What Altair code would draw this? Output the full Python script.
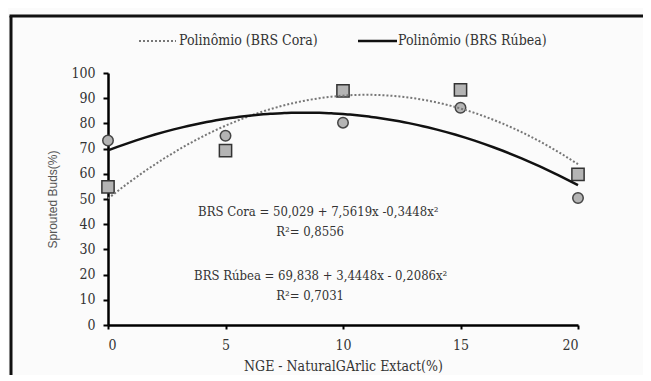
import altair as alt
import pandas as pd

x_levels = [0, 5, 10, 15, 20]
cora_vals = [54.8, 69.2, 92.9, 93.3, 59.8]
rubea_vals = [73.2, 75.1, 80.3, 86.2, 50.4]

eq_texts = ["BRS Cora = 50,029 + 7,5619x -0,3448x²", "R²= 0,8556",
            "BRS Rúbea = 69,838 + 3,4448x - 0,2086x²", "R²= 0,7031"]
eq_x = [8.95, 8.6, 9.05, 8.6]
eq_y = [44.8, 36.9, 19.4, 11.5]

legend_labels = ["Polinômio (BRS Cora)", "Polinômio (BRS Rúbea)"]

cora = pd.DataFrame({"x": x_levels, "y": cora_vals})
rubea = pd.DataFrame({"x": x_levels, "y": rubea_vals})
eqs = pd.DataFrame({"x": eq_x, "y": eq_y, "t": eq_texts})
one = pd.DataFrame({"a": [0]})

SERIF = "DejaVu Serif Condensed, DejaVu Serif"
SANS = "Liberation Sans"

xs = alt.Scale(domain=[0, 20], nice=False)
ys = alt.Scale(domain=[0, 100], nice=False)

xax = alt.Axis(values=x_levels, title="NGE - NaturalGArlic Extact(%)", grid=False,
               domainColor="black", domainWidth=2.5, tickColor="black", tickWidth=2,
               tickSize=4, labelFont=SERIF, labelFontSize=14, labelColor="#333",
               labelPadding=9, labelOverlap=False, titleFont=SERIF, titleFontSize=14,
               titleFontWeight="normal", titleColor="#333", titlePadding=7)
yax = alt.Axis(values=list(range(0, 101, 10)), title="Sprouted Buds(%)", grid=False,
               domainColor="black", domainWidth=2.5, tickColor="black", tickWidth=2,
               tickSize=5, labelFont=SERIF, labelFontSize=14, labelColor="#333",
               labelPadding=8, labelOverlap=False, titleFont=SANS, titleFontSize=12,
               titleFontWeight="normal", titleColor="#555", titlePadding=11)

X = alt.X("x:Q", scale=xs, axis=xax)
Y = alt.Y("y:Q", scale=ys, axis=yax)

base_c = alt.Chart(cora)
base_r = alt.Chart(rubea)

pts_c = base_c.mark_point(shape="square", size=150, filled=True, color="#b4b4b4",
                          stroke="#333", strokeWidth=1.5, opacity=1).encode(x=X, y=Y)
pts_r = base_r.mark_point(shape="circle", size=110, filled=True, color="#b4b4b4",
                          stroke="#444", strokeWidth=1.5, opacity=1).encode(x=X, y=Y)

fit_c = base_c.transform_regression("x", "y", method="poly", order=2, extent=[0, 20]).mark_line(
    color="#777", strokeWidth=2, strokeDash=[2, 2]).encode(x=X, y=Y)
fit_r = base_r.transform_regression("x", "y", method="poly", order=2, extent=[0, 20]).mark_line(
    color="#111", strokeWidth=2.5).encode(x=X, y=Y)

eq_layer = alt.Chart(eqs).mark_text(font=SERIF, fontSize=13, color="#333").encode(
    x=X, y=Y, text="t:N")

frame_left = alt.Chart(one).mark_rule(color="#111", strokeWidth=3).encode(
    x=alt.value(-97), y=alt.value(-57), y2=alt.value(400))
frame_top = alt.Chart(one).mark_rect(color="#111", strokeWidth=0).encode(
    x=alt.value(-98.5), x2=alt.value(535), y=alt.value(-58.5), y2=alt.value(-55.5))

LEG_Y = -32
leg_dot = alt.Chart(one).mark_rule(color="#777", strokeWidth=2, strokeDash=[2, 2]).encode(
    x=alt.value(31), x2=alt.value(68), y=alt.value(LEG_Y))
leg_solid = alt.Chart(one).mark_rule(color="#111", strokeWidth=2.5).encode(
    x=alt.value(250), x2=alt.value(289), y=alt.value(LEG_Y))
leg_t1 = alt.Chart(one).mark_text(font=SERIF, fontSize=14, color="#333", align="left",
                                  baseline="middle", text=legend_labels[0]).encode(
    x=alt.value(71), y=alt.value(LEG_Y))
leg_t2 = alt.Chart(one).mark_text(font=SERIF, fontSize=14, color="#333", align="left",
                                  baseline="middle", text=legend_labels[1]).encode(
    x=alt.value(290), y=alt.value(LEG_Y))

chart = alt.layer(frame_left, frame_top, pts_c, pts_r, fit_c, fit_r, eq_layer,
                  leg_dot, leg_solid, leg_t1, leg_t2).properties(
    width=470, height=252,
    autosize=alt.AutoSizeParams(type="none"),
    padding={"left": 100, "top": 65, "right": 65, "bottom": 50},
    background="#fbfbfb",
).configure_view(stroke=None)

chart.save("out.html", embed_options={"renderer": "svg", "actions": False})
